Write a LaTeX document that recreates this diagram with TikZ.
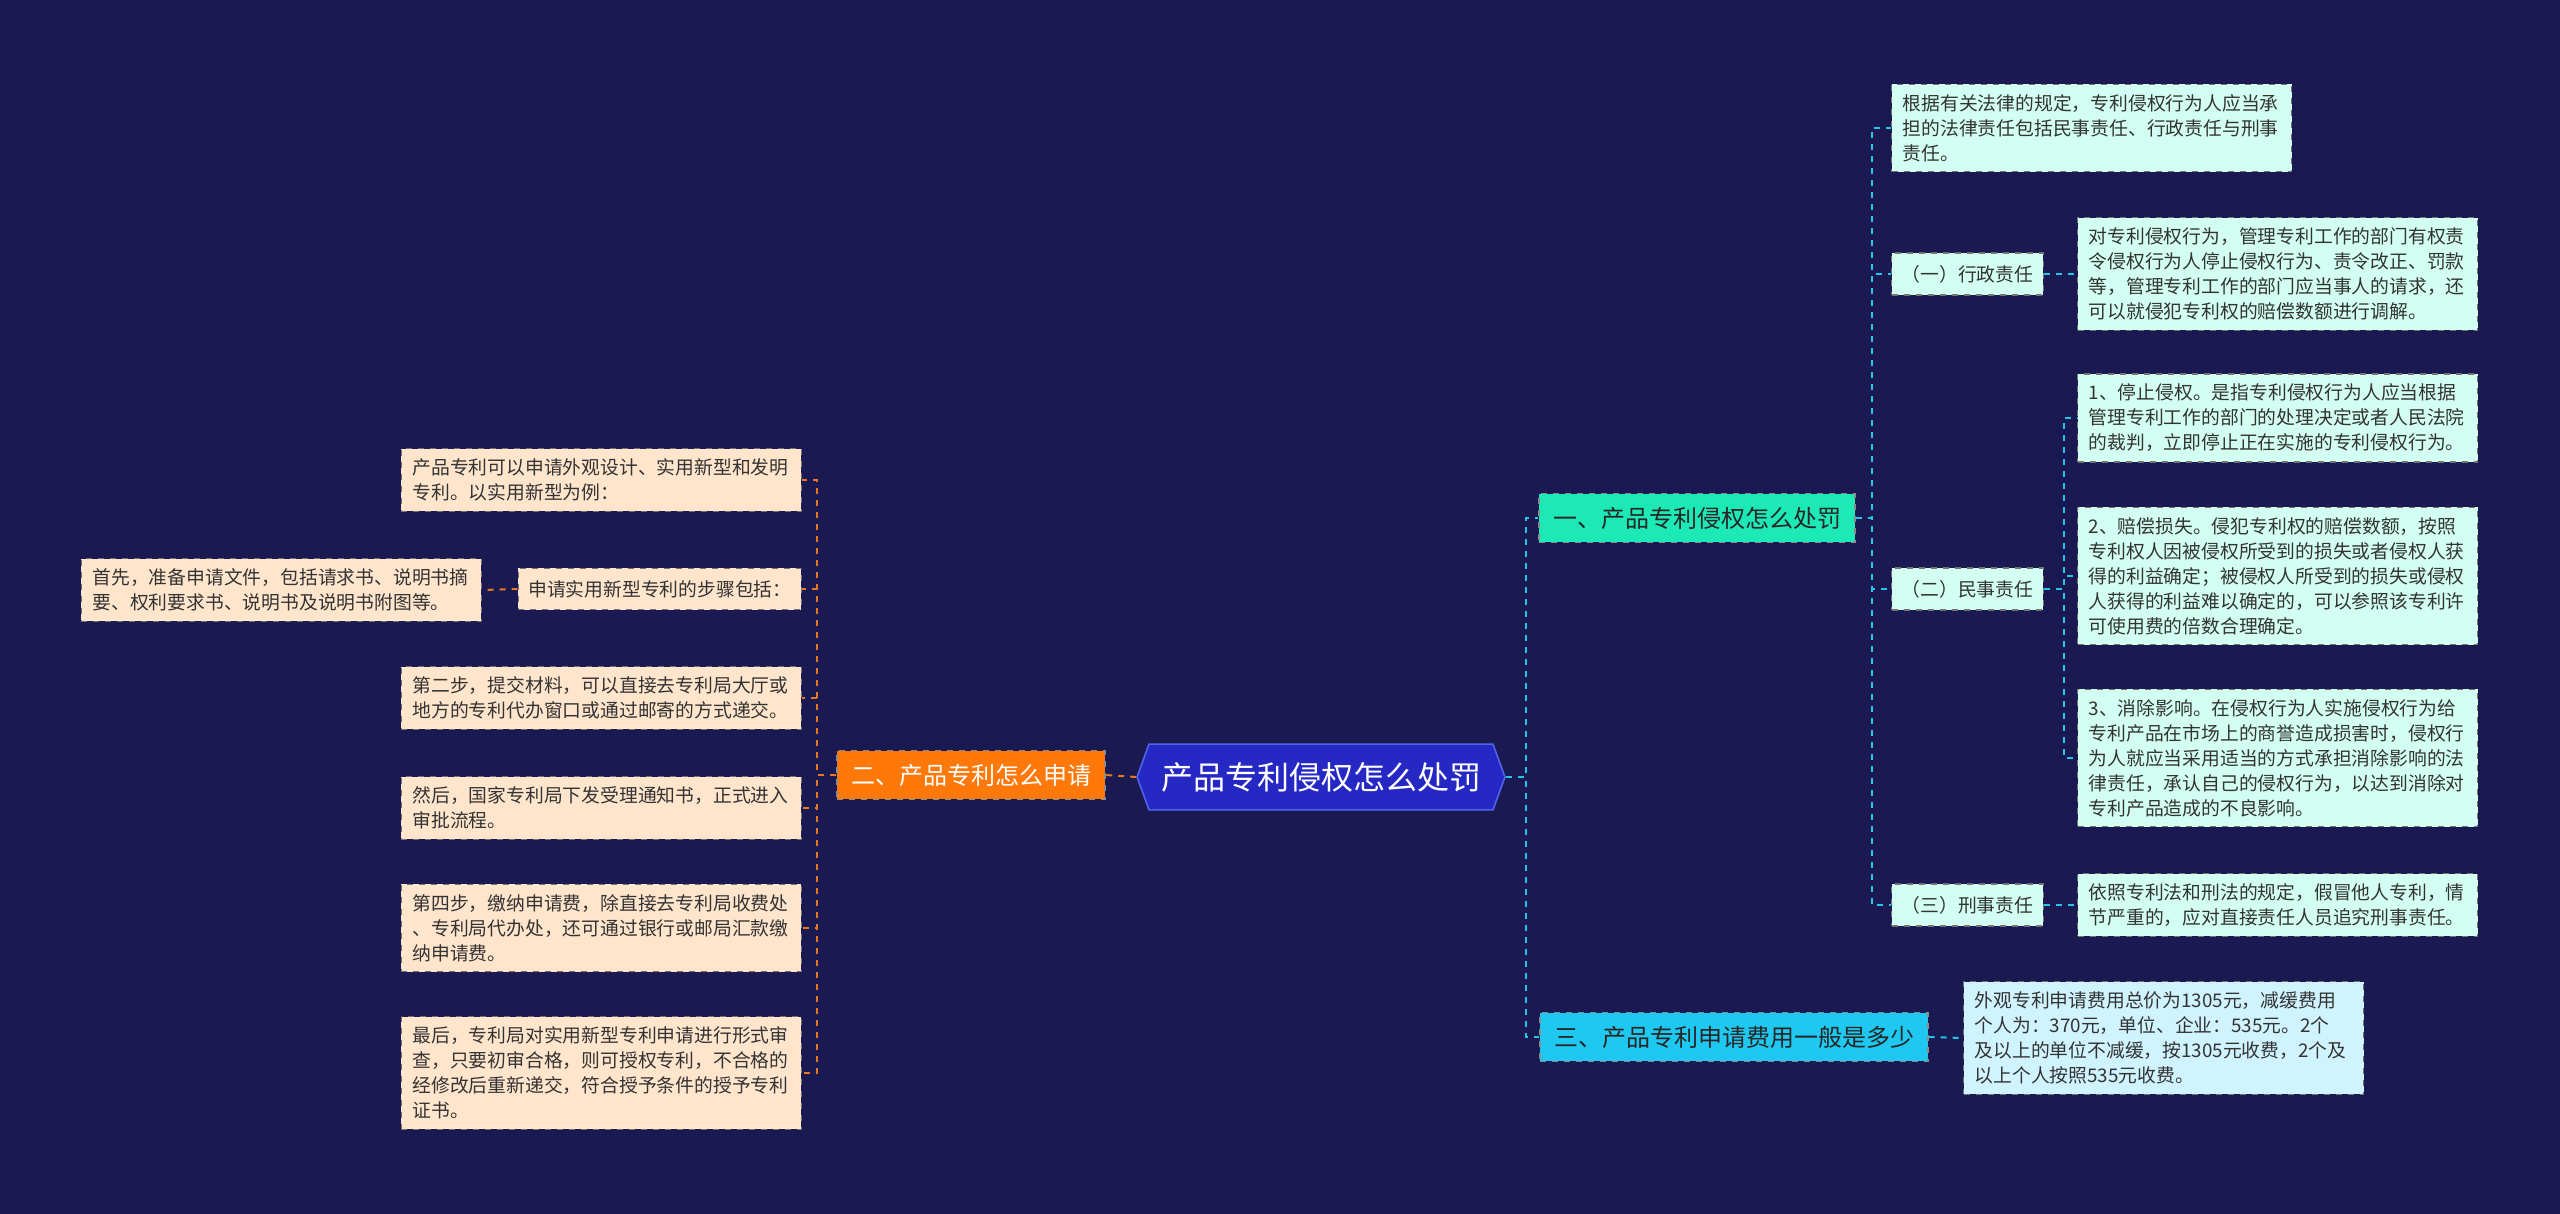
\documentclass[tikz,border=0pt]{standalone}
\usepackage{fontspec}
\setmainfont{Noto Sans CJK SC}
\usepackage{tikz}
\usetikzlibrary{shapes.symbols}
\usepackage{xcolor}

\definecolor{bgnavy}{RGB}{26,25,82}
\definecolor{rootblue}{RGB}{38,40,196}
\definecolor{rootedge}{RGB}{80,100,235}
\definecolor{aquafill}{RGB}{29,233,182}
\definecolor{skyfill}{RGB}{31,200,240}
\definecolor{orangefill}{RGB}{255,120,10}
\definecolor{mintfill}{RGB}{210,255,242}
\definecolor{paleskyfill}{RGB}{208,244,255}
\definecolor{peachfill}{RGB}{255,229,204}
\definecolor{rlinkcol}{RGB}{34,198,230}
\definecolor{llinkcol}{RGB}{232,120,30}

\tikzset{
  rootnode/.style={shape=signal, signal to=east and west, signal pointer angle=140,
    fill=rootblue, draw=rootedge, line width=0.8pt, text=white,
    font=\fontsize{16}{19}\selectfont, inner xsep=6pt, inner ysep=9pt},
  branch/.style={fill=#1, draw=black!45, dashed, line width=0.6pt,
    font=\fontsize{12}{14}\selectfont, inner xsep=7pt, inner ysep=6.5pt},
  tag/.style={fill=#1, draw=black!55, dashed, line width=0.6pt, text=black!80,
    font=\fontsize{9.4}{12.5}\selectfont, inner xsep=5pt, inner ysep=6pt},
  leaf/.style={fill=#1, draw=black!55, dashed, line width=0.6pt, text=black!80,
    font=\fontsize{9.4}{12.5}\selectfont, align=left, text width=189pt,
    inner xsep=5.5pt, inner ysep=5pt},
  rlink/.style={draw=rlinkcol, dashed, line width=1pt},
  llink/.style={draw=llinkcol, dashed, line width=1pt},
}

\begin{document}
\begin{tikzpicture}[x=0.5pt,y=-0.5pt]
\fill[bgnavy] (0,0) rectangle (2560,1214);
\useasboundingbox (0,0) rectangle (2560,1214);

% root and first level
\node[rootnode] (root) at (1321,777) {产品专利侵权怎么处罚};
\node[branch=aquafill, text=black!85] (punish) at (1697,518) {一、产品专利侵权怎么处罚};
\node[branch=skyfill, text=black!85] (costs) at (1734,1037) {三、产品专利申请费用一般是多少};
\node[branch=orangefill, text=white] (apply) at (971,775) {二、产品专利怎么申请};

% right: punishment
\node[leaf=mintfill, anchor=west] (law) at (1891,128)
  {根据有关法律的规定，专利侵权行为人应当承\\担的法律责任包括民事责任、行政责任与刑事\\责任。};
\node[tag=mintfill, anchor=west] (admin) at (1891,274) {（一）行政责任};
\node[leaf=mintfill, anchor=west] (admintxt) at (2077,274)
  {对专利侵权行为，管理专利工作的部门有权责\\令侵权行为人停止侵权行为、责令改正、罚款\\等，管理专利工作的部门应当事人的请求，还\\可以就侵犯专利权的赔偿数额进行调解。};
\node[tag=mintfill, anchor=west] (civil) at (1891,589) {（二）民事责任};
\node[leaf=mintfill, anchor=west] (stop) at (2077,418)
  {1、停止侵权。是指专利侵权行为人应当根据\\管理专利工作的部门的处理决定或者人民法院\\的裁判，立即停止正在实施的专利侵权行为。};
\node[leaf=mintfill, anchor=west] (comp) at (2077,576)
  {2、赔偿损失。侵犯专利权的赔偿数额，按照\\专利权人因被侵权所受到的损失或者侵权人获\\得的利益确定；被侵权人所受到的损失或侵权\\人获得的利益难以确定的，可以参照该专利许\\可使用费的倍数合理确定。};
\node[leaf=mintfill, anchor=west] (clear) at (2077,758)
  {3、消除影响。在侵权行为人实施侵权行为给\\专利产品在市场上的商誉造成损害时，侵权行\\为人就应当采用适当的方式承担消除影响的法\\律责任，承认自己的侵权行为，以达到消除对\\专利产品造成的不良影响。};
\node[tag=mintfill, anchor=west] (crime) at (1891,905) {（三）刑事责任};
\node[leaf=mintfill, anchor=west] (crimetxt) at (2077,905)
  {依照专利法和刑法的规定，假冒他人专利，情\\节严重的，应对直接责任人员追究刑事责任。};

% right: costs
\node[leaf=paleskyfill, anchor=west] (fee) at (1963,1038)
  {外观专利申请费用总价为1305元，减缓费用\\个人为：370元，单位、企业：535元。2个\\及以上的单位不减缓，按1305元收费，2个及\\以上个人按照535元收费。};

% left: how to apply
\node[leaf=peachfill, anchor=east] (kinds) at (802,480)
  {产品专利可以申请外观设计、实用新型和发明\\专利。以实用新型为例：};
\node[tag=peachfill, anchor=east] (steps) at (802,589) {申请实用新型专利的步骤包括：};
\node[leaf=peachfill, anchor=east] (first) at (482,590)
  {首先，准备申请文件，包括请求书、说明书摘\\要、权利要求书、说明书及说明书附图等。};
\node[leaf=peachfill, anchor=east] (second) at (802,698)
  {第二步，提交材料，可以直接去专利局大厅或\\地方的专利代办窗口或通过邮寄的方式递交。};
\node[leaf=peachfill, anchor=east] (then) at (802,808)
  {然后，国家专利局下发受理通知书，正式进入\\审批流程。};
\node[leaf=peachfill, anchor=east] (fourth) at (802,928)
  {第四步，缴纳申请费，除直接去专利局收费处\\、专利局代办处，还可通过银行或邮局汇款缴\\纳申请费。};
\node[leaf=peachfill, anchor=east] (last) at (802,1073)
  {最后，专利局对实用新型专利申请进行形式审\\查，只要初审合格，则可授权专利，不合格的\\经修改后重新递交，符合授予条件的授予专利\\证书。};

% connectors
\draw[rlink] (root.east) -- ++(20,0) |- (punish.west);
\draw[rlink] (root.east) -- ++(20,0) |- (costs.west);
\foreach \n in {law,admin,civil,crime}
  \draw[rlink] (punish.east) -- ++(16,0) |- (\n.west);
\draw[rlink] (admin.east) -- (admintxt.west);
\foreach \n in {stop,comp,clear}
  \draw[rlink] (civil.east) -- ++(20,0) |- (\n.west);
\draw[rlink] (crime.east) -- (crimetxt.west);
\draw[rlink] (costs.east) -- (fee.west);

\draw[llink] (root.west) -- (apply.east);
\foreach \n in {kinds,steps,second,then,fourth,last}
  \draw[llink] (apply.west) -- ++(-19,0) |- (\n.east);
\draw[llink] (steps.west) -- (first.east);
\end{tikzpicture}
\end{document}
